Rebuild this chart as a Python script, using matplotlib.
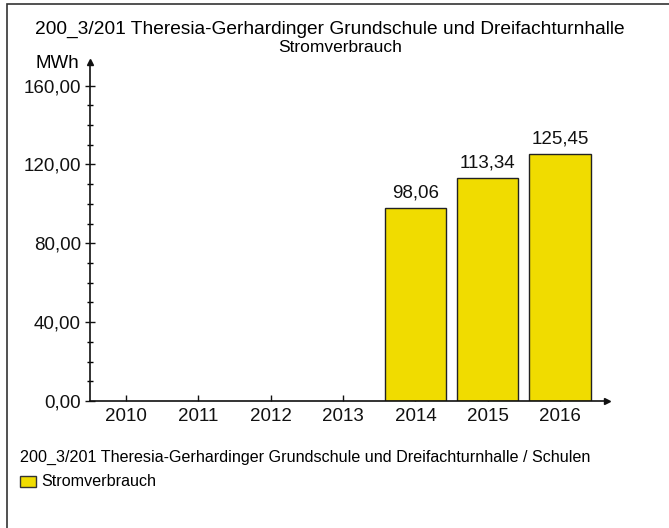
import numpy as np
import matplotlib
matplotlib.use("Agg")
import matplotlib.pyplot as plt
from matplotlib.patches import Rectangle

plt.rcParams['font.family'] = ['Liberation Sans', 'DejaVu Sans']

title = "200_3/201 Theresia-Gerhardinger Grundschule und Dreifachturnhalle"
subtitle = "Stromverbrauch"
legend_heading = "200_3/201 Theresia-Gerhardinger Grundschule und Dreifachturnhalle / Schulen"
series_name = "Stromverbrauch"
unit = "MWh"

years = ["2010", "2011", "2012", "2013", "2014", "2015", "2016"]
values = [np.nan, np.nan, np.nan, np.nan, 98.06, 113.34, 125.45]

y_ticks = [0, 40, 80, 120, 160]

W, H = 669, 528
fig = plt.figure(figsize=(W / 100, H / 100), dpi=100)

# outer frame (right and bottom edges run past the canvas)
fig.patches.append(Rectangle((7 / W, -0.01), 1.0, 1.01 - 4 / H, transform=fig.transFigure,
                             fill=False, edgecolor='#333333', linewidth=1.2))

ax = fig.add_axes([90 / W, (H - 401) / H, 517 / W, 339 / H])
x = np.arange(len(years))
bar_color = '#F0DC00'
ax.bar(x, values, width=0.85, color=bar_color, edgecolor='#222222', linewidth=1.0, zorder=2)

for xi, v in zip(x, values):
    if not np.isnan(v):
        ax.text(xi, v + 3, f"{v:.2f}".replace('.', ','), ha='center', va='bottom',
                fontsize=13.5, color='#111111')

ax.set_xlim(-0.5, 6.65)
ax.set_ylim(0, 172)

for s in ['top', 'right']:
    ax.spines[s].set_visible(False)
for s in ['left', 'bottom']:
    ax.spines[s].set_color('#111111')
    ax.spines[s].set_linewidth(1.2)

# axis arrowheads
ax.plot([0], [1], marker='^', color='#111111', markersize=5, transform=ax.transAxes, clip_on=False)
ax.plot([1], [0], marker='>', color='#111111', markersize=5, transform=ax.transAxes, clip_on=False)

ax.set_xticks(x)
ax.set_xticklabels(years, fontsize=13.5)
ax.set_yticks(y_ticks)
ax.set_yticklabels([f"{t:.2f}".replace('.', ',') for t in y_ticks], fontsize=13.5)
ax.set_yticks(np.arange(0, 161, 10), minor=True)
ax.tick_params(axis='y', which='major', direction='inout', length=7, width=1, pad=3, colors='#111111')
ax.tick_params(axis='y', which='minor', direction='inout', length=5, width=1)
ax.tick_params(axis='x', which='major', direction='in', length=4, width=1, pad=5, colors='#111111')
ax.patch.set_alpha(0)

fig.text(330 / W, 1 - 29 / H, title, ha='center', va='center', fontsize=13.8)
fig.text(340 / W, 1 - 47 / H, subtitle, ha='center', va='center', fontsize=12.5)
fig.text(79 / W, 1 - 64 / H, unit, ha='right', va='center', fontsize=13.5)

fig.text(20 / W, 1 - 457 / H, legend_heading, ha='left', va='center', fontsize=11.6)
fig.patches.append(Rectangle((20 / W, 1 - 487 / H), 16 / W, 11 / H, transform=fig.transFigure,
                             facecolor=bar_color, edgecolor='#333333', linewidth=1))
fig.text(41 / W, 1 - 481 / H, series_name, ha='left', va='center', fontsize=11.6)

fig.savefig("out.png", dpi=100)
